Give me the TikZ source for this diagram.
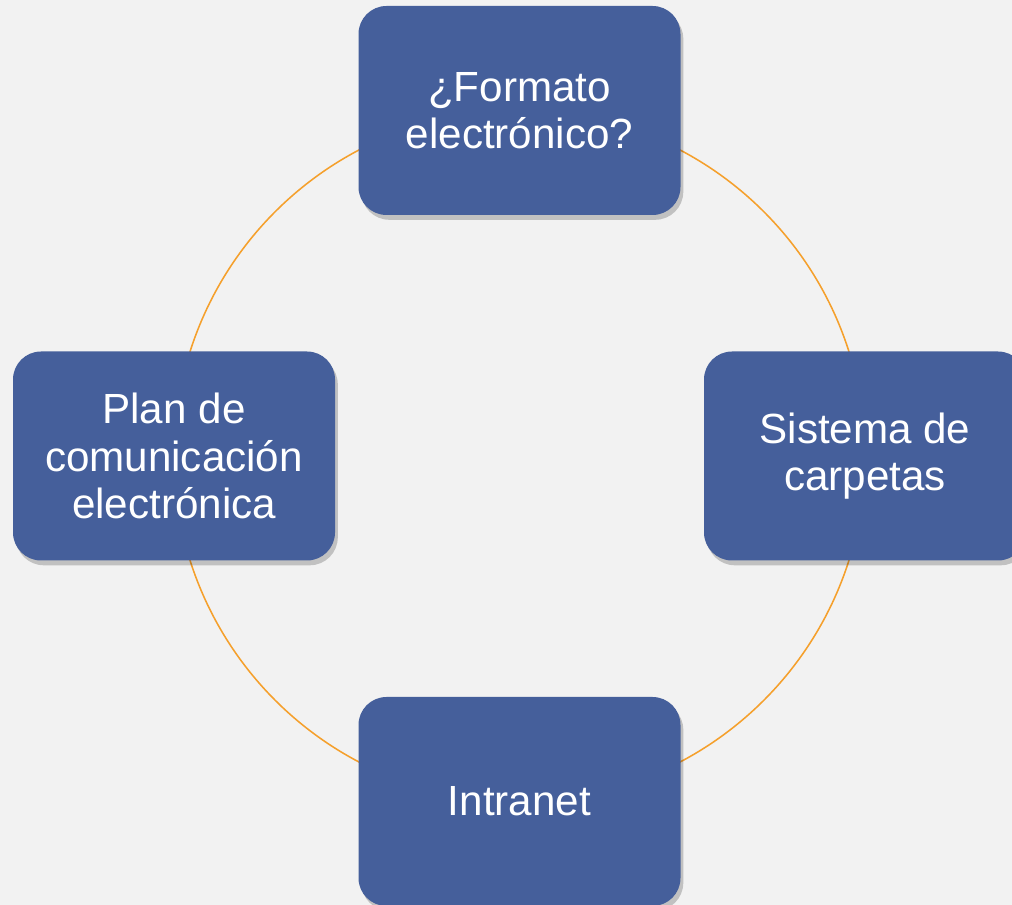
\documentclass[tikz,border=0pt]{standalone}
\usepackage{fontspec}
\setmainfont{Liberation Sans}
\usetikzlibrary{shadows}
\definecolor{BoxBlue}{HTML}{455F9B}
\definecolor{RingOrange}{HTML}{F5A02C}
\definecolor{PageGray}{HTML}{F2F2F2}

\tikzset{
  topic/.style={draw=none, fill=BoxBlue, text=white, rounded corners=0.7cm,
    minimum width=8.05cm, minimum height=5.225cm, align=center,
    font=\fontsize{30}{33.6}\selectfont,
    drop shadow={shadow xshift=0.07cm, shadow yshift=-0.12cm, opacity=0.2, fill=black}}
}

\begin{document}
\begin{tikzpicture}
    % Page
    \clip (0,0) rectangle (25.3,22.625);
    \fill[PageGray] (0,0) rectangle (25.3,22.625);

    % Ring
    \coordinate (C) at (12.9875,11.225);
    \draw[RingOrange, line width=1.1pt] (C) circle (8.6375);

    % Topics
    \node[topic] (formato) at ([shift={(90:8.6375)}]C) {¿Formato\\electrónico?};
    \node[topic] (carpetas) at ([shift={(0:8.6375)}]C) {Sistema de\\carpetas};
    \node[topic] (intranet) at ([shift={(270:8.6375)}]C) {Intranet};
    \node[topic] (plan) at ([shift={(180:8.6375)}]C) {Plan de\\comunicación\\electrónica};
\end{tikzpicture}
\end{document}
